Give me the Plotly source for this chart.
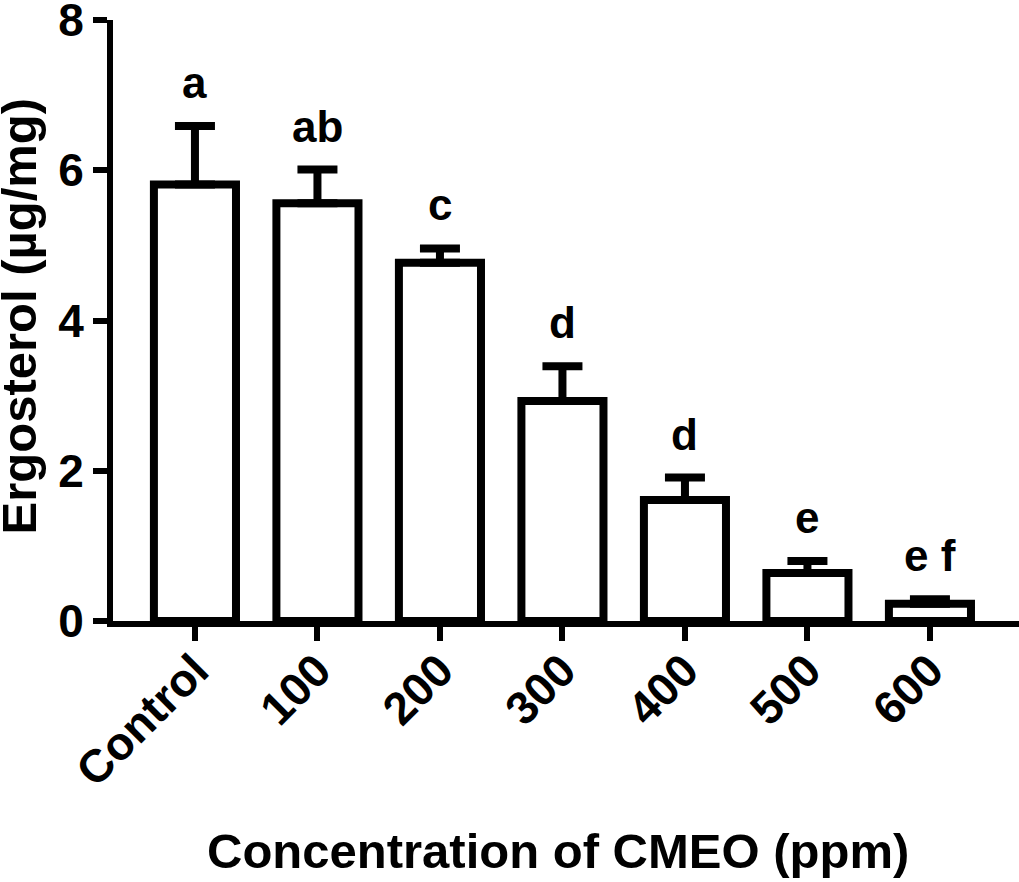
import plotly.graph_objects as go

categories = ["Control", "100", "200", "300", "400", "500", "600"]
means = [5.81, 5.56, 4.77, 2.93, 1.61, 0.64, 0.23]
errors = [0.78, 0.45, 0.19, 0.46, 0.30, 0.16, 0.06]
letters = ["a", "ab", "c", "d", "d", "e", "e f"]
y_ticks = [0, 2, 4, 6, 8]

FONT = "Liberation Sans, Arial, sans-serif"

fig = go.Figure()
fig.add_trace(go.Bar(
    x=categories, y=means, width=0.67,
    marker=dict(color="white", line=dict(color="black", width=8)),
    error_y=dict(type="data", array=errors, arrayminus=[0] * len(errors),
                 symmetric=False, color="black", thickness=8, width=20),
))

for i, (m, e, t) in enumerate(zip(means, errors, letters)):
    fig.add_annotation(x=i, y=m + e, text=t, showarrow=False, yanchor="bottom",
                       yshift=17, font=dict(family=FONT, size=44, color="black", weight="bold"))

fig.add_annotation(xref="paper", yref="paper", x=0.5, y=-0.383, xshift=-8,
                   text="Concentration of CMEO (ppm)", showarrow=False,
                   xanchor="center", yanchor="middle",
                   font=dict(family=FONT, size=49, color="black", weight="bold"))
fig.add_annotation(xref="paper", yref="paper", x=-0.104, y=0.508,
                   text="Ergosterol (µg/mg)", showarrow=False, textangle=-90,
                   xanchor="center", yanchor="middle",
                   font=dict(family=FONT, size=49, color="black", weight="bold"))

fig.update_layout(
    width=1019, height=882,
    margin=dict(l=113, r=0, t=20, b=261, autoexpand=False),
    plot_bgcolor="white", paper_bgcolor="white",
    showlegend=False,
    font=dict(family=FONT, color="black"),
    xaxis=dict(type="category", range=[-0.669, 6.727], showline=True, linecolor="black", linewidth=6,
               ticks="outside", ticklen=14, tickwidth=6, tickcolor="black",
               tickangle=-45, showgrid=False, zeroline=False, automargin=False,
               ticklabelstandoff=-16,
               tickfont=dict(family=FONT, size=46, color="black", weight="bold")),
    yaxis=dict(range=[0, 8], tickvals=y_ticks, showline=True, linecolor="black", linewidth=6,
               ticks="outside", ticklen=14, tickwidth=6, tickcolor="black",
               showgrid=False, zeroline=False, automargin=False,
               ticklabeloverflow="allow",
               tickfont=dict(family=FONT, size=46, color="black", weight="bold")),
)

fig.write_html("out.html", config={"displayModeBar": False},
               post_script="document.body.style.margin='0';document.body.style.overflow='hidden';")
